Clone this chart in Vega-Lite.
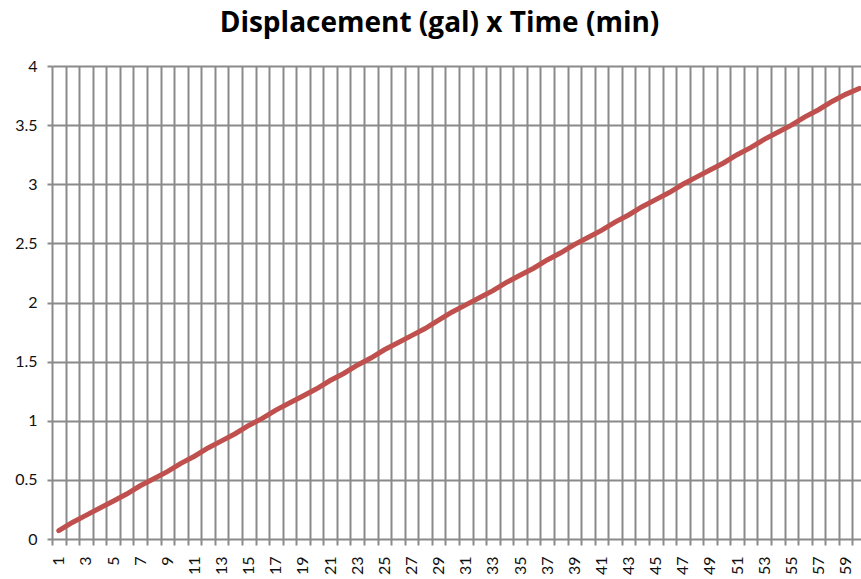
{
  "$schema": "https://vega.github.io/schema/vega-lite/v6.json",
  "autosize": {"type": "none"},
  "width": 809,
  "height": 473,
  "padding": {"left": 52, "top": 66, "right": 0, "bottom": 40},
  "background": "white",
  "title": {
    "text": "Displacement (gal) x Time (min)",
    "font": "Open Sans",
    "fontSize": 28,
    "fontWeight": "bold",
    "color": "#000000",
    "anchor": "middle",
    "dx": -17,
    "offset": 20
  },
  "data": {
    "values": [
      {"t": 1, "v": 0.07}, {"t": 2, "v": 0.14}, {"t": 3, "v": 0.20}, {"t": 4, "v": 0.26},
      {"t": 5, "v": 0.32}, {"t": 6, "v": 0.38}, {"t": 7, "v": 0.45}, {"t": 8, "v": 0.51},
      {"t": 9, "v": 0.57}, {"t": 10, "v": 0.64}, {"t": 11, "v": 0.70}, {"t": 12, "v": 0.77},
      {"t": 13, "v": 0.83}, {"t": 14, "v": 0.89}, {"t": 15, "v": 0.96}, {"t": 16, "v": 1.02},
      {"t": 17, "v": 1.09}, {"t": 18, "v": 1.15}, {"t": 19, "v": 1.21}, {"t": 20, "v": 1.27},
      {"t": 21, "v": 1.34}, {"t": 22, "v": 1.40}, {"t": 23, "v": 1.47}, {"t": 24, "v": 1.53},
      {"t": 25, "v": 1.60}, {"t": 26, "v": 1.66}, {"t": 27, "v": 1.72}, {"t": 28, "v": 1.78},
      {"t": 29, "v": 1.85}, {"t": 30, "v": 1.92}, {"t": 31, "v": 1.98}, {"t": 32, "v": 2.04},
      {"t": 33, "v": 2.10}, {"t": 34, "v": 2.17}, {"t": 35, "v": 2.23}, {"t": 36, "v": 2.29},
      {"t": 37, "v": 2.36}, {"t": 38, "v": 2.42}, {"t": 39, "v": 2.49}, {"t": 40, "v": 2.55},
      {"t": 41, "v": 2.61}, {"t": 42, "v": 2.68}, {"t": 43, "v": 2.74}, {"t": 44, "v": 2.81},
      {"t": 45, "v": 2.87}, {"t": 46, "v": 2.93}, {"t": 47, "v": 3.00}, {"t": 48, "v": 3.06},
      {"t": 49, "v": 3.12}, {"t": 50, "v": 3.18}, {"t": 51, "v": 3.25}, {"t": 52, "v": 3.31},
      {"t": 53, "v": 3.38}, {"t": 54, "v": 3.44}, {"t": 55, "v": 3.50}, {"t": 56, "v": 3.57},
      {"t": 57, "v": 3.63}, {"t": 58, "v": 3.70}, {"t": 59, "v": 3.76}, {"t": 60, "v": 3.81}
    ]
  },
  "mark": {"type": "line", "color": "#C0504D", "strokeWidth": 5, "strokeCap": "round", "clip": false},
  "encoding": {
    "x": {
      "field": "t",
      "type": "ordinal",
      "bandPosition": 0.5,
      "scale": {"type": "band", "paddingInner": 0, "paddingOuter": 0, "range": [0, 814]},
      "axis": {
        "title": null,
        "tickBand": "extent",
        "labelAngle": -90,
        "labelAlign": "right",
        "labelBaseline": "middle",
        "labelExpr": "datum.value % 2 == 1 ? datum.label : ''",
        "labelFont": "Lato",
        "labelFontSize": 16,
        "labelColor": "#111111",
        "labelPadding": 11,
        "labelOverlap": false,
        "tickSize": 6,
        "tickColor": "#8a8a8a",
        "tickWidth": 2,
        "grid": true,
        "gridColor": "#8a8a8a",
        "gridWidth": 2,
        "gridOpacity": 1,
        "domain": false
      }
    },
    "y": {
      "field": "v",
      "type": "quantitative",
      "scale": {"domain": [0, 4], "nice": false, "zero": true},
      "axis": {
        "title": null,
        "values": [0, 0.5, 1, 1.5, 2, 2.5, 3, 3.5, 4],
        "format": "~g",
        "labelFont": "Lato",
        "labelFontSize": 16,
        "labelColor": "#111111",
        "labelPadding": 10,
        "tickSize": 5,
        "tickColor": "#8a8a8a",
        "tickWidth": 2,
        "grid": true,
        "gridColor": "#8a8a8a",
        "gridWidth": 2,
        "gridOpacity": 1,
        "domain": false
      }
    }
  },
  "config": {"view": {"stroke": null}}
}
